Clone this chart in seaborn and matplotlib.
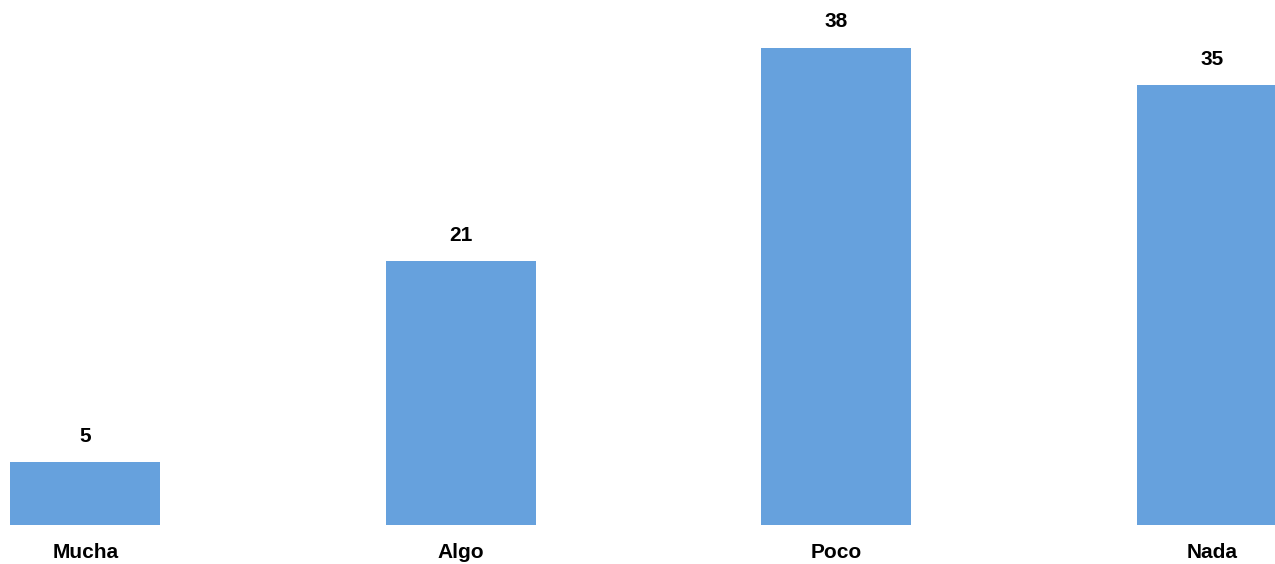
import pandas as pd
import matplotlib.pyplot as plt
import seaborn as sns

# Data
categorias = ['Mucha', 'Algo', 'Poco', 'Nada']
valores = [5, 21, 38, 35]

df = pd.DataFrame({'categoria': categorias, 'valor': valores})

sns.set_style('white')
plt.rcParams['font.family'] = ['Liberation Sans', 'DejaVu Sans']
plt.rcParams['text.color'] = 'black'
plt.rcParams['xtick.color'] = 'black'

fig = plt.figure(figsize=(12.75, 5.64), dpi=100)
ax = fig.add_axes([0, 39 / 564, 1, 525 / 564])

sns.barplot(data=df, x='categoria', y='valor', color='#66A1DD', saturation=1,
            width=0.4, linewidth=0, ax=ax)

ax.set_xlim(-0.227, 3.168)
ax.set_ylim(0, 41.8)

# Value labels above bars
for i, v in enumerate(valores):
    ax.annotate(str(v), (i, v), xytext=(0, 12), textcoords='offset points',
                ha='center', va='bottom', fontsize=15, fontweight='bold',
                color='black', annotation_clip=False)

ax.set_xlabel('')
ax.set_ylabel('')
ax.set_yticks([])
ax.tick_params(axis='x', length=0, pad=13, labelsize=15, labelcolor='black')
for lbl in ax.get_xticklabels():
    lbl.set_fontweight('bold')
sns.despine(left=True, bottom=True, top=True, right=True)

plt.savefig('out.png', dpi=100)
plt.close()
